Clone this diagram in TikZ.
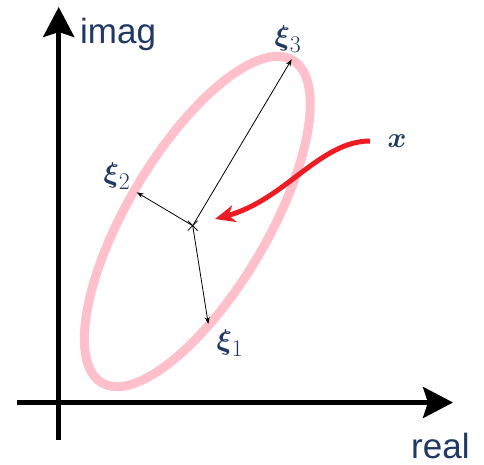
\documentclass[tikz,border=0pt]{standalone}
\usepackage{amsmath}
\usepackage{graphicx}
\usepackage{fontspec}
\setmainfont{Liberation Sans}
\usetikzlibrary{arrows.meta,shapes.misc}
\definecolor{txtblue}{RGB}{31,56,100}
\definecolor{ellpink}{RGB}{255,192,203}
\definecolor{arrred}{RGB}{237,28,36}
\newcommand{\biglab}[1]{\scalebox{1.15}{$#1$}}
\tikzset{
  axisline/.style={line width=4.6pt, -{Stealth[length=30pt,width=31pt,inset=5pt]}},
  vec/.style={line width=0.8pt, -{Stealth[length=7pt,width=5pt]}},
  axlabel/.style={text=txtblue, font=\fontsize{35}{40}\selectfont, inner sep=0pt, anchor=base west, text depth=0pt},
  mlabel/.style={text=txtblue, font=\fontsize{24.88}{30}\selectfont, inner sep=0pt},
}
\begin{document}
\begin{tikzpicture}[x=1pt,y=1pt]
\useasboundingbox (0,0) rectangle (484,464);
% axes
\coordinate (ybot) at (58.7,24);
\coordinate (ytop) at (58.7,457);
\coordinate (xleft) at (17,61.5);
\coordinate (xright) at (453,61.5);
\draw[axisline] (ybot) -- (ytop);
\draw[axisline] (xleft) -- (xright);
\node[axlabel] (imag) at (80,420.5) {imag};
\node[axlabel] (real) at (411,6) {real};
% ellipse
\coordinate (ec) at (197.3,242.5);
\draw[ellpink, line width=9pt, rotate around={59.35:(ec)}] (ec) ellipse [x radius=187.4, y radius=70];
% center and vectors
\node[cross out, draw, line width=0.8pt, minimum size=9pt, inner sep=0pt] (c) at (192.7,238.3) {};
\coordinate (t3) at (291.7,404.7);
\coordinate (t2) at (136.7,271.7);
\coordinate (t1) at (208.3,140);
\draw[vec] (c.center) -- (t3);
\draw[vec] (c.center) -- (t2);
\draw[vec] (c.center) -- (t1);
\node[mlabel] (l3) at (288,425) {\biglab{\boldsymbol{\xi}_3}};
\node[mlabel] (l2) at (117,288) {\biglab{\boldsymbol{\xi}_2}};
\node[mlabel] (l1) at (230,121) {\biglab{\boldsymbol{\xi}_1}};
% red arrow
\node[mlabel] (xl) at (397,323) {\biglab{\boldsymbol{x}}};
\coordinate (rs) at (370,323);
\coordinate (re) at (215,245);
\draw[arrred, line width=5pt, -{Stealth[length=20pt,width=17pt,inset=6pt]}] (rs) .. controls (320,323) and (285,264) .. (re);
\end{tikzpicture}
\end{document}
